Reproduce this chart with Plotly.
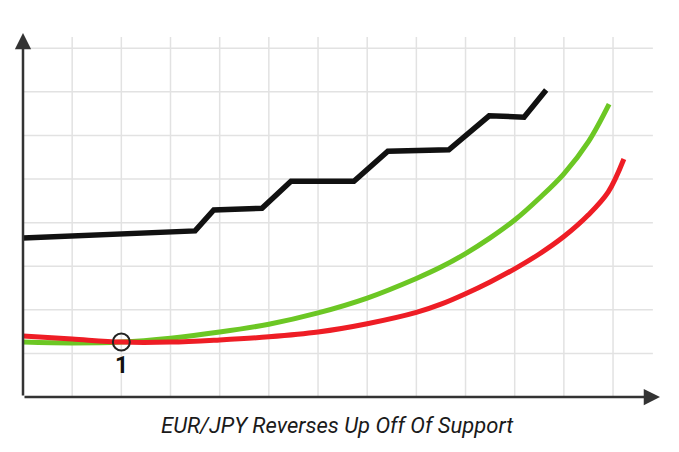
import plotly.graph_objects as go

# black price line (corners)
price_x = [0, 3.50, 3.88, 4.86, 5.45, 6.73, 7.42, 8.66, 9.48, 10.19, 10.64]
price_y = [3.65, 3.81, 4.29, 4.33, 4.95, 4.95, 5.64, 5.67, 6.45, 6.42, 7.04]

# green (fast) average
green_x = [0, 1, 2, 3, 4, 5, 6, 7, 8, 8.5, 9, 9.5, 10, 10.5, 11, 11.5, 11.92]
green_y = [1.26, 1.24, 1.26, 1.35, 1.49, 1.67, 1.93, 2.27, 2.72, 2.98, 3.29, 3.65, 4.06,
           4.56, 5.12, 5.86, 6.72]

# red (slow) average
red_x = [0, 1, 2, 3, 4, 5, 6, 7, 8, 8.5, 9, 9.5, 10, 10.5, 11, 11.5, 11.9, 12.22]
red_y = [1.40, 1.33, 1.26, 1.26, 1.31, 1.38, 1.49, 1.68, 1.94, 2.13, 2.37, 2.64, 2.94,
         3.28, 3.68, 4.18, 4.70, 5.46]

touch_x = [2]
touch_y = [1.26]
touch_label = ["1"]

grid_x = list(range(1, 13))
grid_y = list(range(1, 9))

title = "EUR/JPY Reverses Up Off Of Support"

fig = go.Figure()
fig.add_trace(go.Scatter(x=price_x, y=price_y, mode="lines",
                         line=dict(color="#111111", width=5.5), hoverinfo="skip"))
fig.add_trace(go.Scatter(x=green_x, y=green_y, mode="lines",
                         line=dict(color="#6cc724", width=5, shape="spline"), hoverinfo="skip"))
fig.add_trace(go.Scatter(x=red_x, y=red_y, mode="lines",
                         line=dict(color="#ee1d25", width=5, shape="spline"), hoverinfo="skip"))
fig.add_trace(go.Scatter(x=touch_x, y=touch_y, mode="markers",
                         marker=dict(size=17, color="rgba(0,0,0,0)",
                                     line=dict(color="#222222", width=2)),
                         hoverinfo="skip"))

# grid
shapes = []
for gx in grid_x:
    shapes.append(dict(type="line", xref="x", yref="y", x0=gx, x1=gx, y0=0, y1=8.26,
                       line=dict(color="#e2e2e2", width=1.5), layer="below"))
for gy in grid_y:
    shapes.append(dict(type="line", xref="x", yref="y", x0=0, x1=12.81, y0=gy, y1=gy,
                       line=dict(color="#e2e2e2", width=1.5), layer="below"))

annotations = [
    # axes with arrow heads
    dict(x=0, y=8.35, ax=0, ay=0, xref="x", yref="y", axref="x", ayref="y",
         showarrow=True, arrowhead=2, arrowsize=1.3, arrowwidth=2.5, arrowcolor="#333333", text=""),
    dict(x=12.955, y=0, ax=0, ay=0, xref="x", yref="y", axref="x", ayref="y",
         showarrow=True, arrowhead=2, arrowsize=1.3, arrowwidth=2.5, arrowcolor="#333333", text=""),
    dict(x=touch_x[0], y=0.72, xref="x", yref="y", text="<b>" + touch_label[0] + "</b>",
         showarrow=False, font=dict(family="Roboto", size=23, color="#111111")),
    dict(x=0.493, y=-0.077, xref="paper", yref="paper", yanchor="middle", text=title,
         showarrow=False, font=dict(family="Roboto", size=22, color="#1a1a1a", style="italic")),
]

# page body adds 8px, so margins are shifted to land the axes where the reference has them
fig.update_layout(
    width=679, height=452,
    margin=dict(l=15, r=27, t=25, b=63),
    paper_bgcolor="white", plot_bgcolor="white",
    showlegend=False,
    xaxis=dict(range=[0, 12.955], showgrid=False, zeroline=False, showticklabels=False,
               ticks="", fixedrange=True),
    yaxis=dict(range=[0, 8.35], showgrid=False, zeroline=False, showticklabels=False,
               ticks="", fixedrange=True),
    shapes=shapes,
    annotations=annotations,
)

fig.write_html("out.html")
